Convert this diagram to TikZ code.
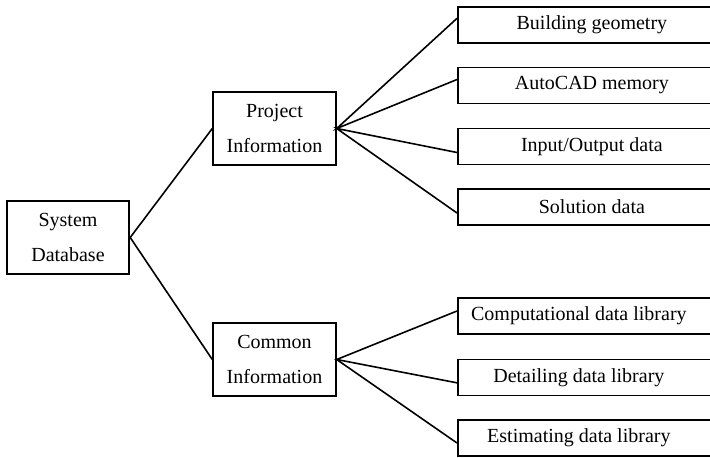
\documentclass[tikz,border=0pt]{standalone}
\usepackage{fontspec}
\setmainfont{Liberation Serif}
\tikzset{
	box/.style={draw, line width=1.3pt, align=center, minimum width=92pt, minimum height=55pt, inner sep=0},
	leaf/.style={draw, line width=1.3pt, anchor=west, minimum width=225pt, minimum height=27pt, inner sep=0},
	toptext/.style={xshift=-12pt},
	libtext/.style={xshift=-21.75pt},
	link/.style={line width=1.2pt}
}

\begin{document}
\begin{tikzpicture}[x=0.75pt,y=-0.75pt,font=\fontsize{15}{26.5}\selectfont]
		\useasboundingbox (0,0) rectangle (710,457);
		\clip (0,0) rectangle (710,457);
		% main boxes
		\node[box] (sys) at (68,237.5) {System\\Database};
		\node[box] (proj) at (274.5,128.5) {Project\\Information};
		\node[box] (comm) at (274.5,359.5) {Common\\Information};
		% project information
		\node[leaf,label={[toptext]center:Building geometry}] (geo) at (457,25) {};
		\node[leaf,label={[toptext]center:AutoCAD memory}] (cad) at (457,85.5) {};
		\node[leaf,label={[toptext]center:Input/Output data}] (io) at (457,146.5) {};
		\node[leaf,label={[toptext]center:Solution data}] (sol) at (457,207) {};
		% common information
		\node[leaf,label={[libtext]center:Computational data library}] (comp) at (457,316) {};
		\node[leaf,label={[libtext]center:Detailing data library}] (det) at (457,377.5) {};
		\node[leaf,label={[libtext]center:Estimating data library}] (est) at (457,438) {};
		\draw[link] (proj.west) -- (sys.east) -- (comm.west);
		\draw[link] ([yshift=5pt]geo.west) -- (proj.east) -- ([yshift=4.5pt]cad.west);
		\draw[link] ([yshift=-4.5pt]io.west) -- (proj.east) -- ([yshift=-4.5pt]sol.west);
		\draw[link] ([yshift=3.75pt]comp.west) -- (comm.east) -- ([yshift=-4pt]det.west);
		\draw[link] (comm.east) -- ([yshift=-3.75pt]est.west);
\end{tikzpicture}
\end{document}
